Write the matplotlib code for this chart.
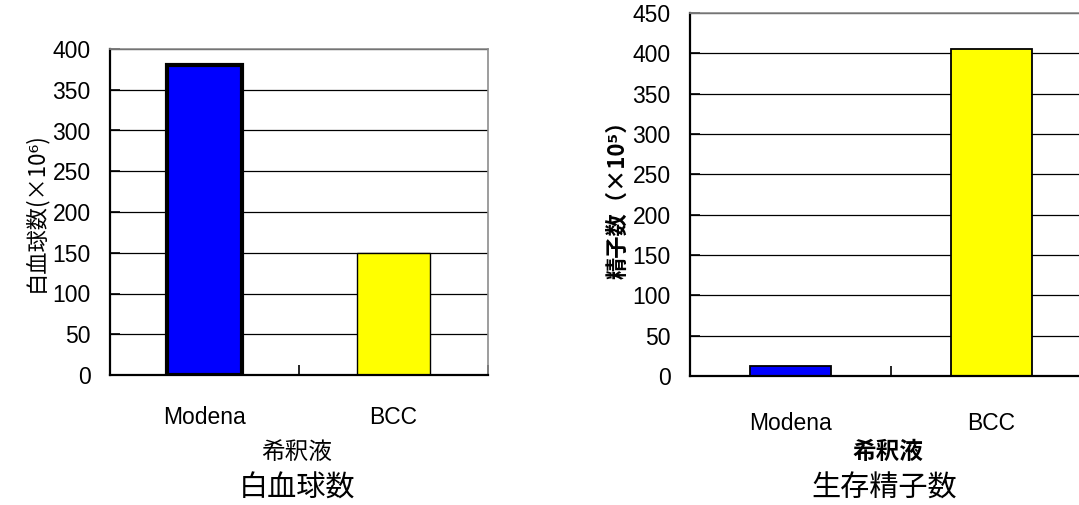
import matplotlib
matplotlib.use("Agg")
import matplotlib.pyplot as plt
import numpy as np

plt.rcParams['font.family'] = ['Liberation Sans', 'Noto Sans CJK JP', 'DejaVu Sans']
JP = ['Noto Sans CJK JP', 'DejaVu Sans']

categories = ['Modena', 'BCC']
wbc_values = [380, 150]
sperm_values = [13, 405]
bar_colors = ['#0000ff', '#ffff00']

W, H = 1079, 505
fig = plt.figure(figsize=(W / 100, H / 100), dpi=100)


def style_axes(ax, ymax):
    x = np.arange(1, len(categories) + 1)
    ax.set_xlim(0.5, len(categories) + 0.5)
    ax.set_ylim(0, ymax)
    ax.set_yticks(np.arange(0, ymax + 1, 50))
    ax.set_xticks(x)
    ax.set_xticklabels(categories, fontsize=16.5)
    ax.set_xticks(np.arange(0.5, len(categories) + 1, 1), minor=True)
    ax.tick_params(axis='x', which='major', length=0, pad=22)
    ax.tick_params(axis='x', which='minor', direction='in', length=7, width=1.2)
    ax.tick_params(axis='y', direction='in', length=7, width=1.2, pad=14, labelsize=16.5)
    ax.yaxis.grid(True, color='black', linewidth=0.9)
    ax.set_axisbelow(True)
    for s in ['left', 'bottom']:
        ax.spines[s].set_linewidth(1.6)
        ax.spines[s].set_color('black')
    for s in ['top', 'right']:
        ax.spines[s].set_linewidth(1.2)
        ax.spines[s].set_color('#8c8c8c')
    return x


# left chart
ax1 = fig.add_axes([110 / W, (H - 375) / H, 378 / W, 326 / H])
x = style_axes(ax1, 400)
ax1.bar(x[0], wbc_values[0], width=0.4, color=bar_colors[0], edgecolor='black', linewidth=3)
ax1.bar(x[1], wbc_values[1], width=0.39, color=bar_colors[1], edgecolor='black', linewidth=1)
ax1.set_ylabel('白血球数(×10⁶)', family=JP, fontsize=16, labelpad=4)
fig.text(297 / W, 1 - 452 / H, '希釈液', family=JP, fontsize=17, ha='center', va='center')
fig.text(297 / W, 1 - 489 / H, '白血球数', family=JP, fontsize=21, ha='center', va='center')

# right chart
ax2 = fig.add_axes([690 / W, (H - 376) / H, 402 / W, 363 / H])
x = style_axes(ax2, 450)
ax2.tick_params(axis='x', which='major', pad=26)
ax2.bar(x, sperm_values, width=0.4, color=bar_colors, edgecolor='black', linewidth=1.3)
ax2.set_ylabel('精子数（×10⁵）', family=JP, fontsize=16, fontweight='bold', labelpad=2)
fig.text(888 / W, 1 - 452 / H, '希釈液', family=JP, fontsize=17, fontweight='bold',
         ha='center', va='center')
fig.text(884 / W, 1 - 489 / H, '生存精子数', family=JP, fontsize=21, ha='center', va='center')

fig.savefig('out.png', dpi=100)
